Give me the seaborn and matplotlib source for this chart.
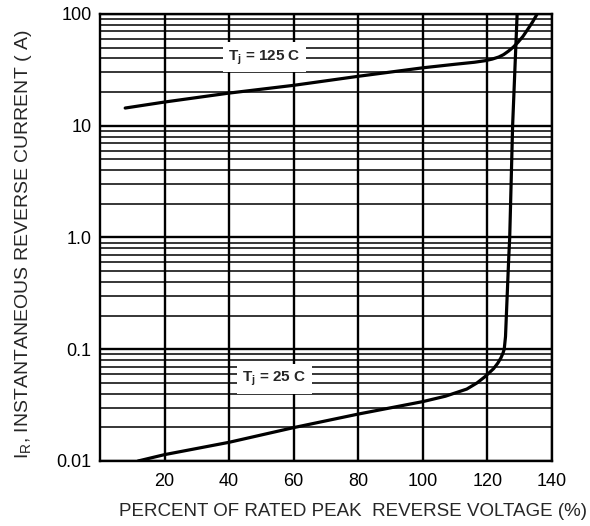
import numpy as np
import pandas as pd
import matplotlib
matplotlib.use("Agg")
import matplotlib.pyplot as plt
import seaborn as sns
from matplotlib.ticker import FixedLocator, FixedFormatter, LogLocator, NullFormatter

# curve (percent of rated voltage, current in A)
v_125 = [7.8, 20, 40, 60, 80, 100, 110, 116, 119.3, 121.5, 123.5, 125, 126.5, 128, 129.5, 131, 132.5, 134, 135.4]
i_125 = [14.4, 16.3, 19.6, 23.0, 27.7, 33.0, 35.5, 37.0, 38.2, 39.5, 41.2, 43.3, 46.5, 50.5, 56.0, 63.0, 73.0, 85.0, 100.0]

v_25 = [11.8, 20, 40, 60, 80, 100, 107, 113.6, 116.8, 119.3, 121.9, 123.2, 124.2, 124.8, 125.2, 125.6, 126.0, 126.6, 126.9, 127.8, 129.2]
i_25 = [0.010, 0.0114, 0.0147, 0.0199, 0.0263, 0.034, 0.038, 0.044, 0.050, 0.057, 0.067, 0.075, 0.084, 0.092, 0.10, 0.13, 0.25, 0.66, 1.0, 10.0, 100.0]

x_ticks = [20, 40, 60, 80, 100, 120, 140]
y_ticks = [0.01, 0.1, 1.0, 10, 100]
y_labels = ["0.01", "0.1", "1.0", "10", "100"]

df = pd.concat([
    pd.DataFrame({"v": v_125, "i": i_125, "tj": "125"}),
    pd.DataFrame({"v": v_25, "i": i_25, "tj": "25"}),
])

sns.set_style("white")
plt.rcParams["font.family"] = ["Liberation Sans", "DejaVu Sans"]

fig = plt.figure(figsize=(5.9, 5.26), dpi=100)
ax = fig.add_axes([0.1695, 0.1236, 0.7661, 0.8498])

sns.lineplot(data=df, x="v", y="i", units="tj", estimator=None, sort=False,
             color="black", linewidth=2.3, ax=ax)

ax.set_yscale("log")
ax.set_xlim(0, 140)
ax.set_ylim(0.01, 100)

ax.xaxis.set_major_locator(FixedLocator(x_ticks))
ax.yaxis.set_major_locator(FixedLocator(y_ticks))
ax.yaxis.set_major_formatter(FixedFormatter(y_labels))
ax.yaxis.set_minor_locator(LogLocator(base=10, subs=np.arange(2, 10)))
ax.yaxis.set_minor_formatter(NullFormatter())

ax.grid(True, which="major", axis="both", color="black", linewidth=1.7)
ax.grid(True, which="minor", axis="y", color="black", linewidth=1.1)
ax.tick_params(axis="both", which="both", length=0, labelsize=13, labelcolor="black")
ax.tick_params(axis="x", pad=9)
ax.tick_params(axis="y", pad=6)
for s in ax.spines.values():
    s.set_color("black")
    s.set_linewidth(1.7)

ax.text(51, 41, "T$_\\mathregular{j}$ = 125 C", fontsize=11, fontweight="bold",
        ha="center", va="center", bbox=dict(facecolor="white", edgecolor="none", pad=4))
ax.text(54, 0.054, "T$_\\mathregular{j}$ = 25 C", fontsize=11, fontweight="bold",
        ha="center", va="center", bbox=dict(facecolor="white", edgecolor="none", pad=4))

ax.set_xlabel("PERCENT OF RATED PEAK  REVERSE VOLTAGE (%)", fontsize=13.5)
ax.xaxis.set_label_coords(0.56, -0.095)
ax.set_ylabel("I$_\\mathregular{R}$, INSTANTANEOUS REVERSE CURRENT ( A)", fontsize=14)
ax.yaxis.set_label_coords(-0.147, 0.485)

fig.savefig("out.png", dpi=100)
